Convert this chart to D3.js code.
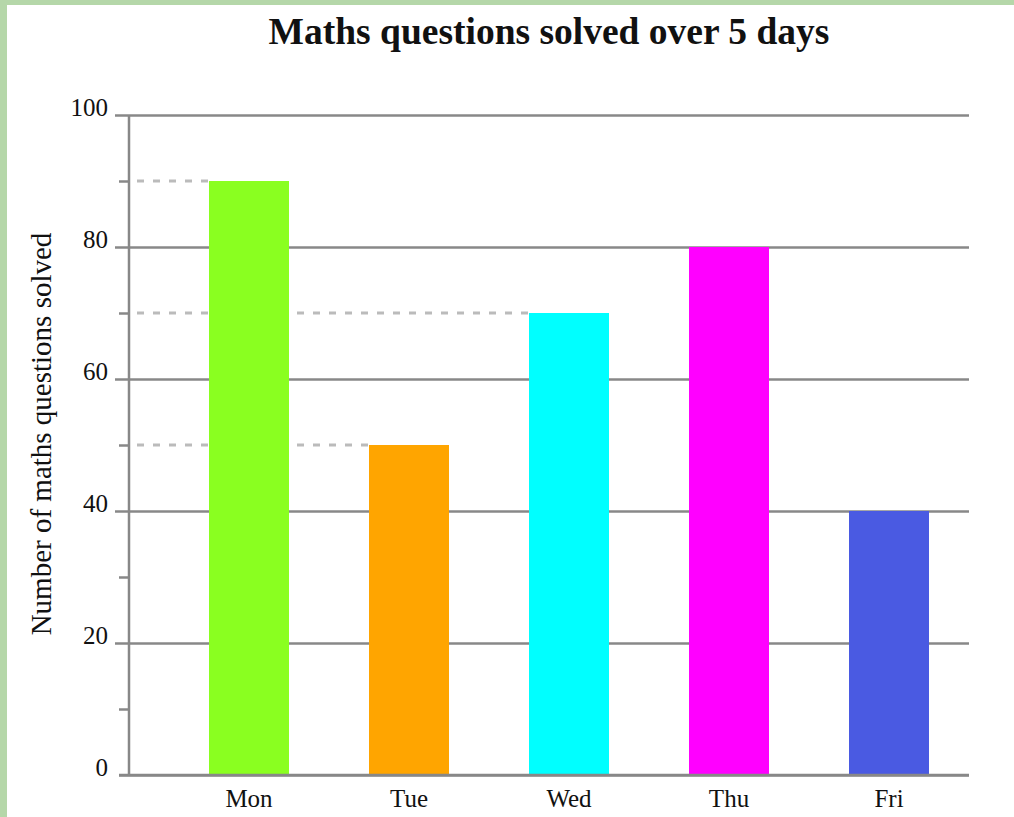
<!DOCTYPE html>
<html>
<head>
<meta charset="utf-8">
<script src="https://cdn.jsdelivr.net/npm/d3@7"></script>
<style>
  html, body { margin: 0; padding: 0; background: #b5d7a9; overflow: hidden; }
  #frame { position: absolute; left: 7px; top: 5px; width: 1100px; height: 900px; background: #fff; }
  svg { position: absolute; left: 0; top: 0; }
  text { font-family: "Liberation Serif", "Times New Roman", serif; fill: #111; }
</style>
</head>
<body>
<div id="frame"></div>
<div id="chart"></div>
<script>
// chart data
const days = ['Mon', 'Tue', 'Wed', 'Thu', 'Fri'];
const solved = [90, 50, 70, 80, 40];
const barColors = ['#8aff20', '#ffa500', '#00ffff', '#ff00ff', '#4a5ae2'];
const majorTicks = [0, 20, 40, 60, 80, 100];
const minorTicks = [10, 30, 50, 70, 90];

const width = 1014;
const height = 817;
const margin = {"top": 115, "right": 45, "bottom": 42, "left": 129};
const graphWidth = width - margin.left - margin.right;
const graphHeight = height - margin.top - margin.bottom;

const svg = d3.select('#chart')
    .append('svg')
    .attr('width', width)
    .attr('height', height);

// title
svg.append('text')
    .text('Maths questions solved over 5 days')
    .attr('x', margin.left + graphWidth / 2)
    .attr('y', 44)
    .attr('text-anchor', 'middle')
    .style('font-size', '37.5px')
    .style('font-weight', 'bold');

// y axis label
svg.append('text')
    .text('Number of maths questions solved')
    .attr('transform', `translate(51, ${margin.top + graphHeight / 2 - 11}) rotate(-90)`)
    .attr('text-anchor', 'middle')
    .style('font-size', '29px');

const graph = svg.append('g')
    .attr('transform', `translate(${margin.left}, ${margin.top})`);

const xScale = d3.scaleBand()
    .domain(days)
    .range([40, graphWidth])
    .paddingInner(0.5)
    .paddingOuter(0.25);

const yScale = d3.scaleLinear()
    .domain([0, 100])
    .range([graphHeight, 0]);

// major gridlines + ticks + labels
const yAxis = d3.axisLeft(yScale)
    .tickValues(majorTicks)
    .tickSize(-graphWidth)
    .tickPadding(10);

const gy = graph.append('g').call(yAxis);
gy.select('.domain').remove();
gy.selectAll('.tick line')
    .attr('x1', -14)
    .attr('stroke', '#888')
    .attr('stroke-width', 2.5);
gy.selectAll('.tick line').filter(d => d === 0).attr('x1', -10);
gy.selectAll('.tick text')
    .attr('x', -21)
    .attr('dy', 0)
    .style('font-family', '"Liberation Serif", serif')
    .style('font-size', '25px')
    .attr('fill', '#111');

// minor ticks
const yMinor = d3.axisLeft(yScale)
    .tickValues(minorTicks)
    .tickSize(10)
    .tickFormat('');
const gm = graph.append('g').call(yMinor);
gm.select('.domain').remove();
gm.selectAll('.tick line')
    .attr('stroke', '#888')
    .attr('stroke-width', 2.5);

// dashed guides from axis to each bar top (off gridlines)
graph.selectAll('.guide')
    .data(solved.map((v, i) => ({v: v, day: days[i]})).filter(d => d.v % 20 !== 0))
    .enter()
    .append('line')
    .attr('class', 'guide')
    .attr('x1', 8)
    .attr('x2', d => xScale(d.day))
    .attr('y1', d => yScale(d.v))
    .attr('y2', d => yScale(d.v))
    .attr('stroke', '#bbb')
    .attr('stroke-width', 3)
    .attr('stroke-dasharray', '7,9');

// bars
graph.selectAll('.bar')
    .data(solved)
    .enter()
    .append('rect')
    .attr('class', 'bar')
    .attr('x', (d, i) => xScale(days[i]))
    .attr('y', d => yScale(d))
    .attr('width', xScale.bandwidth())
    .attr('height', d => graphHeight - yScale(d))
    .attr('fill', (d, i) => barColors[i]);

// y axis line
graph.append('line')
    .attr('x1', 0).attr('x2', 0)
    .attr('y1', 0).attr('y2', graphHeight)
    .attr('stroke', '#888')
    .attr('stroke-width', 2.5);

// x axis line (redrawn over bars)
graph.append('line')
    .attr('x1', -10).attr('x2', graphWidth)
    .attr('y1', graphHeight).attr('y2', graphHeight)
    .attr('stroke', '#888')
    .attr('stroke-width', 2.5);

// x labels
const xAxis = d3.axisBottom(xScale).tickSize(0).tickPadding(8);
const gx = graph.append('g')
    .attr('transform', `translate(0, ${graphHeight})`)
    .call(xAxis);
gx.select('.domain').remove();
gx.selectAll('.tick text')
    .attr('y', 32)
    .attr('dy', 0)
    .style('font-family', '"Liberation Serif", serif')
    .style('font-size', '25px')
    .attr('fill', '#111');
</script>
</body>
</html>
